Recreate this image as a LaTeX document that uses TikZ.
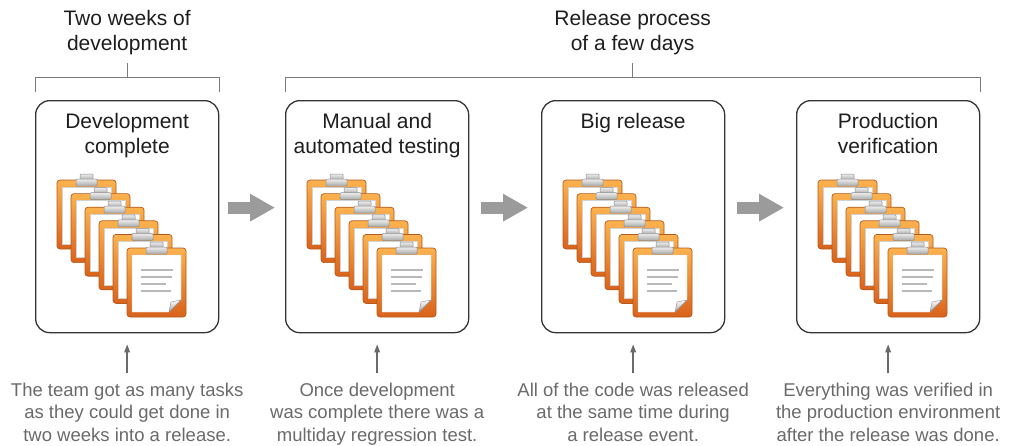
\documentclass[tikz,border=0pt]{standalone}
\usepackage{fontspec}
\setmainfont{Liberation Sans}
\usetikzlibrary{arrows.meta,calc}

\definecolor{boxline}{HTML}{333333}
\definecolor{bracketgray}{HTML}{7A7A7A}
\definecolor{flowgray}{HTML}{9B9B9B}
\definecolor{notegray}{HTML}{6A6A6A}
\definecolor{titleink}{HTML}{1E1E1E}
\definecolor{boardtop}{HTML}{FBB24E}
\definecolor{boardbot}{HTML}{D9621C}
\definecolor{boardedge}{HTML}{B45A1C}
\definecolor{clamptop}{HTML}{EDEDED}
\definecolor{clampbot}{HTML}{A9A9A9}
\definecolor{clampedge}{HTML}{8C8C8C}
\definecolor{paperedge}{HTML}{D2D2D2}
\definecolor{textline}{HTML}{B9B9B9}

\tikzset{
  stage/.style={draw=boxline, line width=1.3pt, rounded corners=14pt,
    minimum width=183pt, minimum height=232pt, inner sep=0pt, anchor=north west},
  heading/.style={font=\fontsize{21}{25}\selectfont, text=titleink, align=center,
    inner sep=0pt, anchor=north},
  stagetitle/.style={heading},
  note/.style={font=\fontsize{18.5}{22.5}\selectfont, text=notegray, align=center,
    inner sep=0pt, anchor=north},
  bracket/.style={draw=bracketgray, line width=1pt},
  flow/.style={draw=flowgray, line width=12pt, line cap=butt,
    -{Triangle[length=25pt,width=26pt]}},
  pointer/.style={draw=notegray, line width=1.6pt,
    -{Triangle[length=8pt,width=5.5pt]}},
  % one clipboard: orange board, white sheet, grey clamp
  clipboard/.pic={
    \draw[line width=0.7pt, draw=boardedge, top color=boardtop, bottom color=boardbot,
      rounded corners=3pt] (0,0) rectangle (59,69);
    \fill[white, draw=paperedge, line width=0.4pt] (5,7) rectangle (54,64);
    \draw[line width=0.5pt, draw=clampedge, top color=clamptop, bottom color=clampbot,
      rounded corners=1pt] (23,-6) rectangle (36,0);
    \draw[line width=0.5pt, draw=clampedge, top color=clamptop, bottom color=clampbot,
      rounded corners=1pt] (19,-1) rectangle (40,6);
  },
  % the top clipboard of a stack: sheet with text lines and a curled corner
  frontclipboard/.pic={
    \draw[line width=0.7pt, draw=boardedge, top color=boardtop, bottom color=boardbot,
      rounded corners=3pt] (0,0) rectangle (59,69);
    \fill[white, draw=paperedge, line width=0.4pt]
      (5,7) -- (54,7) -- (54,52) -- (42,64) -- (5,64) -- cycle;
    \shade[top color=white, bottom color=clampbot, draw=clampedge, line width=0.4pt]
      (54,52) -- (42,64) -- (44,54) -- cycle;
    \draw[textline, line width=1.6pt] (14,22) -- (46,22);
    \draw[textline, line width=1.6pt] (14,29) -- (45,29);
    \draw[textline, line width=1.6pt] (14,36) -- (39,36);
    \draw[textline, line width=1.6pt] (14,43) -- (44,43);
    \draw[line width=0.5pt, draw=clampedge, top color=clamptop, bottom color=clampbot,
      rounded corners=1pt] (23,-6) rectangle (36,0);
    \draw[line width=0.5pt, draw=clampedge, top color=clamptop, bottom color=clampbot,
      rounded corners=1pt] (19,-1) rectangle (40,6);
  }
}

\begin{document}
\begin{tikzpicture}[x=1pt, y=-1pt]
\useasboundingbox (0,0) rectangle (1013,445);

% stage boxes
\node[stage] (b1) at (35,100) {};
\node[stage] (b2) at (285,100) {};
\node[stage] (b3) at (541,100) {};
\node[stage] (b4) at (796,100) {};

% stage titles
\node[stagetitle] (t1) at ($(b1.north)+(0,13)$) {Development\\complete};
\node[stagetitle] (t2) at ($(b2.north)+(0,13)$) {Manual and\\automated testing};
\node[stagetitle] (t3) at ($(b3.north)+(0,13)$) {Big release};
\node[stagetitle] (t4) at ($(b4.north)+(0,13)$) {Production\\verification};

% stacks of clipboards
\foreach \b in {b1,b2,b3,b4}{
  \foreach \i in {0,...,4}{
    \pic at ($(\b.north west)+(22+14*\i,80+13.6*\i)$) {clipboard};
  }
  \pic at ($(\b.north west)+(92,148)$) {frontclipboard};
}

% time-span brackets and their headings
\draw[bracket] ($(b1.north west)+(0,-8)$) -- ($(b1.north west)+(0,-23)$)
  -- ($(b1.north east)+(0,-23)$) -- ($(b1.north east)+(0,-8)$);
\draw[bracket] ($(b1.north)+(0,-23)$) -- ($(b1.north)+(0,-37)$);
\node[heading] (h1) at ($(b1.north)+(0,-90)$) {Two weeks of\\development};

\coordinate (m2) at ($(b2.north west)!0.5!(b4.north east)$);
\draw[bracket] ($(b2.north west)+(0,-8)$) -- ($(b2.north west)+(0,-23)$)
  -- ($(b4.north east)+(0,-23)$) -- ($(b4.north east)+(0,-8)$);
\draw[bracket] ($(m2)+(0,-23)$) -- ($(m2)+(0,-37)$);
\node[heading] (h2) at ($(m2)+(0,-90)$) {Release process\\of a few days};

% flow arrows between stages
\draw[flow] ([xshift=9pt,yshift=9pt]b1.east) -- ([xshift=-10pt,yshift=9pt]b2.west);
\draw[flow] ([xshift=12pt,yshift=9pt]b2.east) -- ([xshift=-13pt,yshift=9pt]b3.west);
\draw[flow] ([xshift=12pt,yshift=9pt]b3.east) -- ([xshift=-12pt,yshift=9pt]b4.west);

% explanatory notes
\node[note] (n1) at ($(b1.south)+(0,49.5)$) {The team got as many tasks\\as they could get done in\\two weeks into a release.};
\node[note] (n2) at ($(b2.south)+(0,49.5)$) {Once development\\was complete there was a\\multiday regression test.};
\node[note] (n3) at ($(b3.south)+(0,49.5)$) {All of the code was released\\at the same time during\\a release event.};
\node[note] (n4) at ($(b4.south)+(0,49.5)$) {Everything was verified in\\the production environment\\after the release was done.};

\foreach \k in {1,2,3,4}{
  \draw[pointer] ([yshift=9.5pt]n\k.north) -- ([yshift=-11pt]b\k.south);
}
\end{tikzpicture}
\end{document}
